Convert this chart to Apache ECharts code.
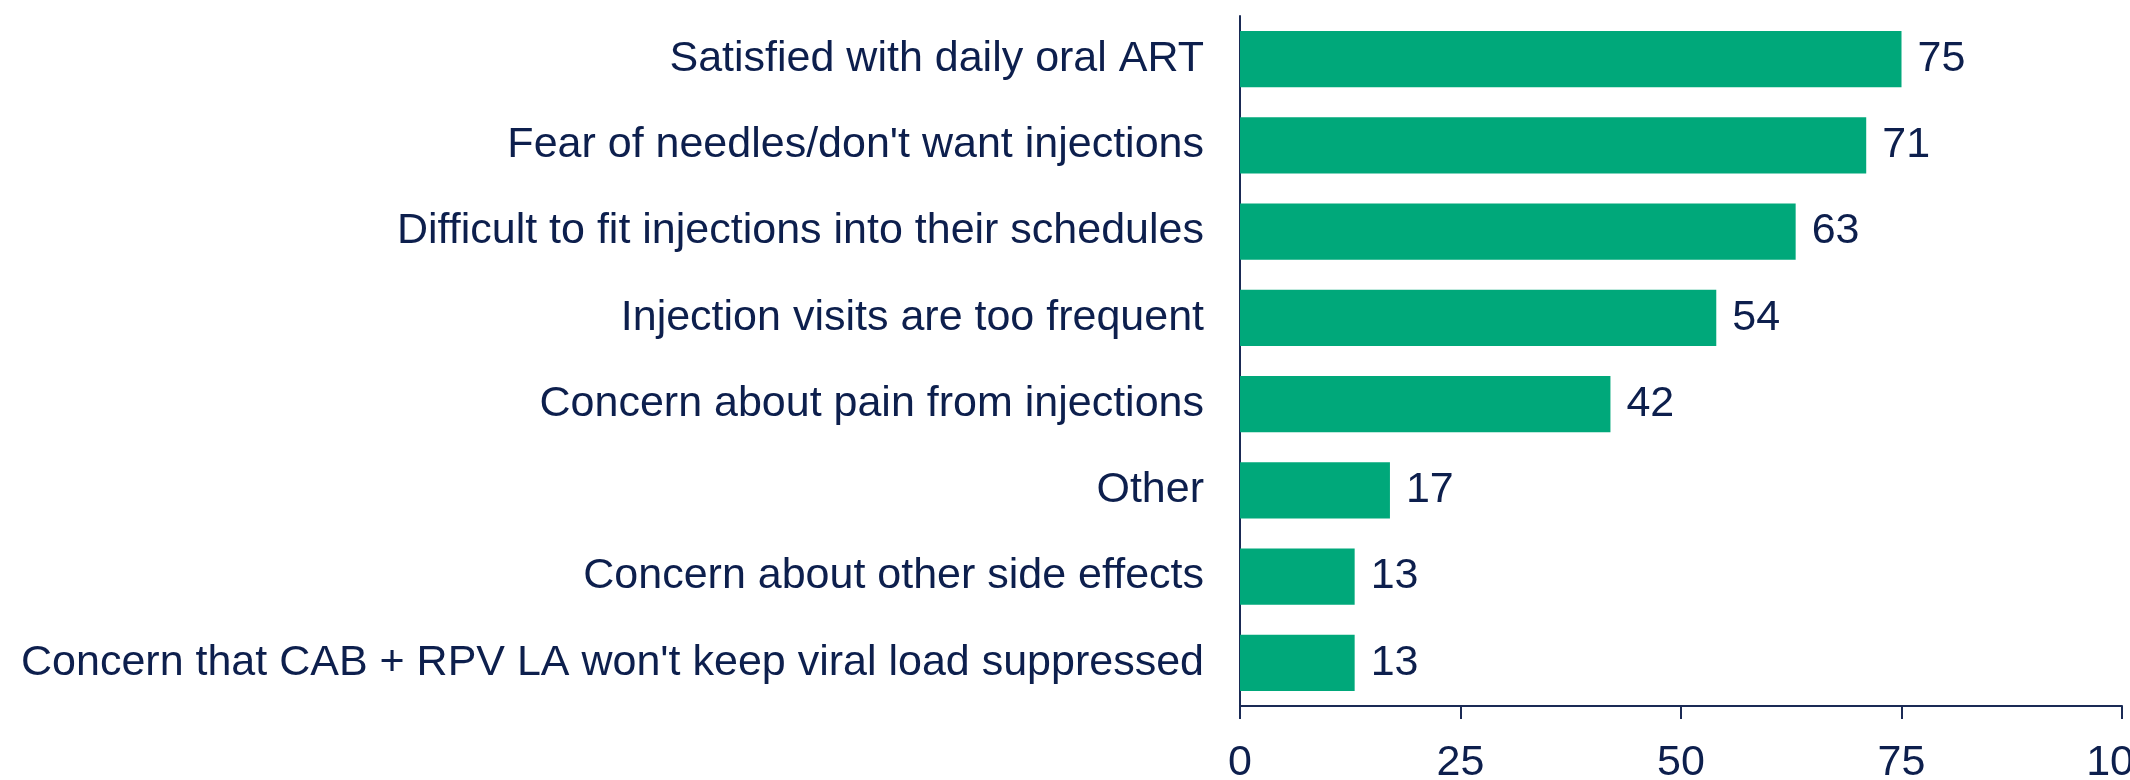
<!DOCTYPE html>
<html>
<head>
<meta charset="utf-8">
<script src="https://cdn.jsdelivr.net/npm/echarts@6/dist/echarts.min.js"></script>
<style>
html,body{margin:0;padding:0;background:#fff;}
#c{width:2130px;height:780px;}
</style>
</head>
<body>
<div id="c"></div>
<script>
const categories = [
  "Satisfied with daily oral ART",
  "Fear of needles/don't want injections",
  "Difficult to fit injections into their schedules",
  "Injection visits are too frequent",
  "Concern about pain from injections",
  "Other",
  "Concern about other side effects",
  "Concern that CAB + RPV LA won't keep viral load suppressed"
];
const values = [75, 71, 63, 54, 42, 17, 13, 13];
const xTicks = [0, 25, 50, 75, 100];

const textColor = '#0d1f4d';
const fam = 'Liberation Sans, Arial, sans-serif';
const chart = echarts.init(document.getElementById('c'));
chart.setOption({
  animation: false,
  textStyle: { fontFamily: fam },
  grid: { left: 1240, right: 8, top: 16, bottom: 74, containLabel: false, outerBoundsMode: 'none' },
  xAxis: {
    type: 'value',
    min: xTicks[0],
    max: xTicks[xTicks.length - 1],
    interval: 25,
    axisLine: { show: true, lineStyle: { color: '#1a2a55', width: 2 } },
    axisTick: { show: true, inside: false, length: 13, lineStyle: { color: '#1a2a55', width: 2 } },
    splitLine: { show: false },
    axisLabel: { color: textColor, fontSize: 43, margin: 36, fontFamily: fam, showMaxLabel: true }
  },
  yAxis: {
    type: 'category',
    inverse: true,
    data: categories,
    axisLine: { show: true, lineStyle: { color: '#1a2a55', width: 2 } },
    axisTick: { show: false },
    axisLabel: { color: textColor, fontSize: 43, margin: 36, fontFamily: fam }
  },
  series: [{
    type: 'bar',
    data: values,
    barWidth: '65%',
    itemStyle: { color: '#00a87a' },
    label: {
      show: true,
      position: 'right',
      distance: 16,
      color: textColor,
      fontSize: 43,
      fontFamily: fam
    }
  }]
});
</script>
</body>
</html>
